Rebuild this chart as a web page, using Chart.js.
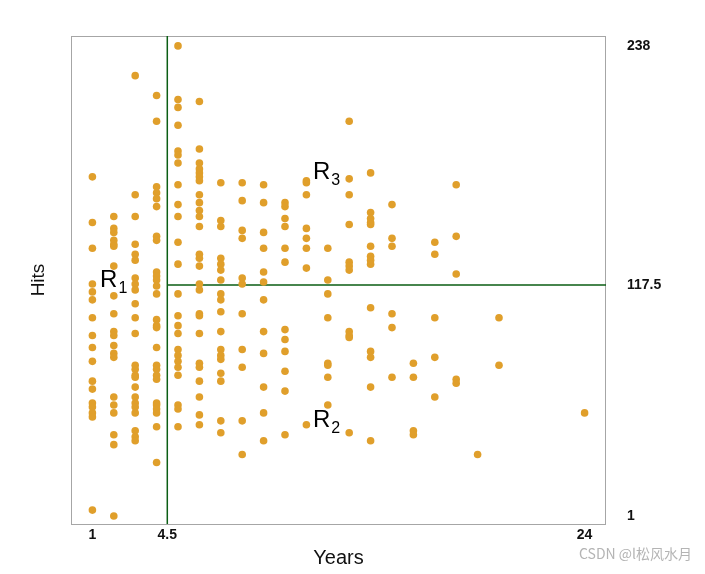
<!DOCTYPE html>
<html>
<head>
<meta charset="utf-8">
<script src="https://cdn.jsdelivr.net/npm/chart.js@4"></script>
<style>
  html, body { margin: 0; padding: 0; background: #fff; }
  #wrap { width: 705px; height: 574px; }
</style>
</head>
<body>
<div id="wrap"><canvas id="tree"></canvas></div>
<script>
// Hitters: hits per player, grouped by years in the majors
const hitsYear1 = [172, 149, 136, 118, 114, 110, 101, 92, 86, 79, 69, 65, 58, 56, 53, 51, 4];
const hitsYear2 = [152, 146, 144, 140, 138, 137, 127, 112, 103, 94, 92, 87, 83, 81, 61, 57, 53, 42, 37, 1];
const hitsYear3 = [223, 163, 152, 138, 133, 130, 121, 118, 115, 108, 101, 93, 77, 75, 72, 71, 66, 61, 58, 56, 53, 44, 41, 39];
const hitsYear4 = [213, 200, 167, 164, 161, 157, 142, 140, 124, 122, 120, 117, 113, 100, 97, 96, 86, 77, 75, 72, 70, 58, 57, 55, 53, 46, 28];
const hitsYear5 = [238, 211, 207, 198, 185, 183, 179, 168, 158, 152, 139, 128, 113, 102, 97, 93, 85, 82, 79, 76, 72, 57, 55, 46];
const hitsYear6 = [210, 186, 179, 176, 174, 172, 170, 163, 159, 155, 152, 147, 133, 131, 127, 118, 115, 103, 102, 93, 78, 76, 69, 61, 52, 47];
const hitsYear7 = [169, 150, 147, 131, 128, 125, 120, 113, 110, 104, 94, 85, 82, 80, 73, 69, 49, 43];
const hitsYear8 = [169, 160, 145, 141, 121, 118, 103, 85, 76, 49, 32];
const hitsYear9 = [168, 159, 144, 136, 124, 119, 110, 94, 83, 66, 53, 39];
const hitsYear10 = [159, 157, 151, 147, 136, 129, 95, 90, 84, 74, 64, 42];
const hitsYear11 = [170, 169, 163, 146, 141, 136, 126, 47];
const hitsYear12 = [136, 120, 113, 101, 78, 77, 71, 57];
const hitsYear13 = [200, 171, 163, 148, 129, 127, 125, 94, 92, 91, 43];
const hitsYear14 = [174, 154, 151, 149, 148, 137, 132, 130, 128, 106, 84, 81, 66, 39];
const hitsYear15 = [158, 141, 137, 103, 96, 71];
const hitsYear16 = [78, 71, 44, 42];
const hitsYear17 = [139, 133, 101, 81, 61];
const hitsYear18 = [168, 142, 123, 70, 68];
const hitsYear19 = [32];
const hitsYear20 = [101, 77];
const hitsYear24 = [53];

const years = [1, 2, 3, 4, 5, 6, 7, 8, 9, 10, 11, 12, 13, 14, 15, 16, 17, 18, 19, 20, 24];
const hitsByYear = [hitsYear1, hitsYear2, hitsYear3, hitsYear4, hitsYear5, hitsYear6, hitsYear7,
  hitsYear8, hitsYear9, hitsYear10, hitsYear11, hitsYear12, hitsYear13, hitsYear14, hitsYear15,
  hitsYear16, hitsYear17, hitsYear18, hitsYear19, hitsYear20, hitsYear24];

// tree splits and tick labels
const yearsSplit = 4.5;
const hitsSplit = 117.5;
const xTicks = [1, 4.5, 24];
const yTicks = [1, 117.5, 238];

// region labels: [name, subscript, years, hits] (text anchor, left/baseline)
const regionLabels = [
  ['R', '1', 1.36, 116.5],
  ['R', '2', 11.31, 45.9],
  ['R', '3', 11.31, 170.9]
];

const points = [];
years.forEach((yr, i) => hitsByYear[i].forEach(h => points.push({ x: yr, y: h })));

const FONT = "'Liberation Sans', Arial, Helvetica, sans-serif";
const GREEN = '#0b5e14';

const treePlugin = {
  id: 'treePlugin',
  beforeDatasetsDraw(chart) {
    const { ctx, chartArea: a, scales: { x, y } } = chart;
    ctx.save();
    ctx.strokeStyle = '#a6a6a6';
    ctx.lineWidth = 1;
    ctx.strokeRect(a.left + 0.5, a.top + 0.5, a.right - a.left - 1, a.bottom - a.top);
    ctx.strokeStyle = GREEN;
    ctx.lineWidth = 1.5;
    const vx = x.getPixelForValue(yearsSplit);
    const hy = y.getPixelForValue(hitsSplit);
    ctx.beginPath();
    ctx.moveTo(vx, a.top);
    ctx.lineTo(vx, a.bottom);
    ctx.moveTo(vx, hy);
    ctx.lineTo(a.right, hy);
    ctx.stroke();
    ctx.restore();
  },
  afterDatasetsDraw(chart) {
    const { ctx, scales: { x, y } } = chart;
    ctx.save();
    ctx.fillStyle = '#000';
    ctx.textBaseline = 'alphabetic';
    ctx.textAlign = 'left';
    regionLabels.forEach(([r, sub, yr, h]) => {
      const px = x.getPixelForValue(yr);
      const py = y.getPixelForValue(h);
      ctx.font = '24px ' + FONT;
      ctx.fillText(r, px, py);
      const w = ctx.measureText(r).width;
      ctx.font = '16px ' + FONT;
      ctx.fillText(sub, px + w + 1, py + 6);
    });
    ctx.font = "14px 'Noto Sans CJK SC', 'Noto Sans', sans-serif";
    ctx.fillStyle = '#b4b4b4';
    ctx.textAlign = 'right';
    ctx.fillText('CSDN @l松风水月', 692, 559);
    ctx.restore();
  }
};

new Chart(document.getElementById('tree'), {
  type: 'scatter',
  data: {
    datasets: [{
      data: points,
      backgroundColor: '#e09f2b',
      borderWidth: 0,
      pointRadius: 3.8,
      pointHoverRadius: 3.8
    }]
  },
  options: {
    responsive: true,
    maintainAspectRatio: false,
    animation: false,
    layout: { padding: { top: 36, left: 0, right: 0, bottom: 0 } },
    plugins: { legend: { display: false }, tooltip: { enabled: false } },
    scales: {
      x: {
        type: 'linear',
        min: 0,
        max: 25,
        afterBuildTicks: s => { s.ticks = xTicks.map(v => ({ value: v })); },
        afterFit: s => { s.height = 50; },
        grid: { display: false, drawTicks: false },
        border: { display: false },
        ticks: {
          padding: 3,
          color: '#111',
          font: { size: 14, weight: 'bold', family: FONT },
          callback: v => String(v),
          autoSkip: false,
          maxRotation: 0
        },
        title: {
          display: true,
          text: 'Years',
          color: '#111',
          font: { size: 20, family: FONT },
          padding: { top: 0, bottom: 4 }
        }
      },
      y: {
        type: 'linear',
        position: 'right',
        min: -3,
        max: 243,
        afterBuildTicks: s => { s.ticks = yTicks.map(v => ({ value: v })); },
        afterFit: s => { s.width = 99; },
        grid: { display: false, drawTicks: false },
        border: { display: false },
        ticks: {
          padding: 21,
          color: '#111',
          font: { size: 14, weight: 'bold', family: FONT },
          callback: v => String(v),
          autoSkip: false
        }
      },
      yl: {
        type: 'linear',
        position: 'left',
        afterFit: s => { s.width = 71; },
        grid: { display: false, drawTicks: false },
        border: { display: false },
        ticks: { display: false },
        title: {
          display: true,
          text: 'Hits',
          color: '#111',
          font: { size: 19, family: FONT },
          padding: { top: 27, bottom: 0 }
        }
      }
    }
  },
  plugins: [treePlugin]
});
</script>
</body>
</html>
